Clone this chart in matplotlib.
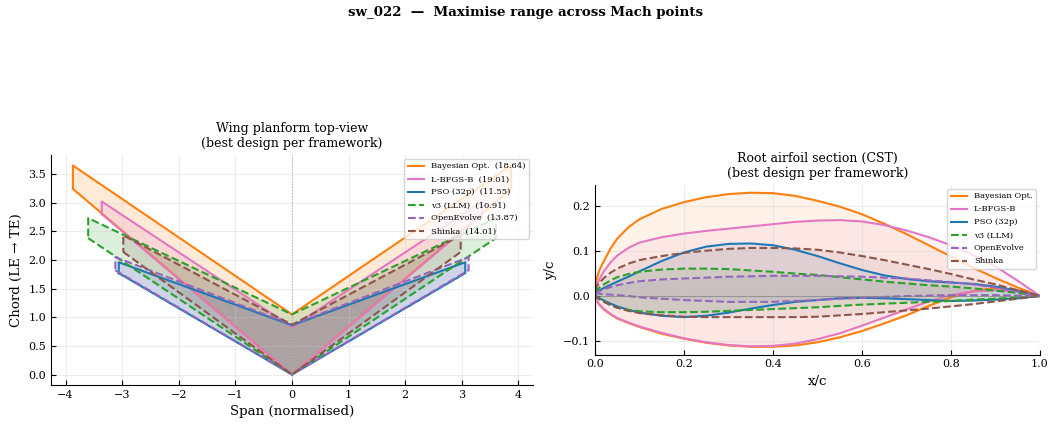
import matplotlib
matplotlib.use("Agg")
import matplotlib.pyplot as plt
import numpy as np

plt.rcParams.update({"font.family": "DejaVu Serif", "font.size": 8,
                     "axes.grid": True, "grid.alpha": 0.35, "grid.color": "#cccccc",
                     "xtick.direction": "in", "ytick.direction": "in",
                     "xtick.major.size": 3.5, "ytick.major.size": 3.5,
                     "axes.spines.top": False, "axes.spines.right": False})

# frameworks
NAMES = ["Bayesian Opt.", "L-BFGS-B", "PSO (32p)", "v3 (LLM)", "OpenEvolve", "Shinka"]
SCORES = [18.64, 19.01, 11.55, 10.91, 13.87, 14.01]
COLORS = ["#ff7f0e", "#e377c2", "#1f77b4", "#2ca02c", "#9467bd", "#8c564b"]
STYLES = ["-", "-", "-", "--", "--", "--"]

# planform: semi-span, root chord, LE offset at tip, TE position at tip
SEMI_SPAN = [3.87, 3.36, 3.06, 3.60, 3.12, 2.98]
ROOT_CHORD = [1.05, 0.83, 0.86, 1.05, 0.87, 0.87]
LE_TIP = [3.24, 2.80, 1.77, 2.38, 1.82, 2.14]
TE_TIP = [3.65, 3.02, 1.96, 2.73, 2.05, 2.43]

# root airfoil (CST) sampled stations
X_C = [0, 0.003, 0.01, 0.02, 0.035, 0.05, 0.075, 0.1, 0.15, 0.2, 0.25, 0.3, 0.35,
       0.4, 0.45, 0.5, 0.55, 0.6, 0.65, 0.7, 0.75, 0.8, 0.85, 0.9, 0.95, 1.0]
UPPER = [
    [0.008, 0.035, 0.058, 0.078, 0.106, 0.128, 0.153, 0.171, 0.194, 0.209, 0.220, 0.227, 0.230,
     0.229, 0.223, 0.212, 0.199, 0.182, 0.161, 0.138, 0.113, 0.088, 0.063, 0.040, 0.019, 0.0],
    [0.006, 0.022, 0.038, 0.055, 0.075, 0.090, 0.107, 0.119, 0.131, 0.139, 0.145, 0.150, 0.155,
     0.160, 0.165, 0.168, 0.169, 0.166, 0.158, 0.146, 0.131, 0.113, 0.091, 0.066, 0.034, 0.0],
    [0.006, 0.009, 0.013, 0.018, 0.025, 0.032, 0.043, 0.055, 0.078, 0.097, 0.110, 0.116, 0.117,
     0.113, 0.103, 0.089, 0.073, 0.058, 0.046, 0.038, 0.033, 0.030, 0.027, 0.021, 0.012, 0.0],
    [0.008, 0.013, 0.019, 0.026, 0.035, 0.042, 0.049, 0.054, 0.059, 0.061, 0.061, 0.060, 0.057,
     0.054, 0.050, 0.047, 0.042, 0.037, 0.032, 0.028, 0.024, 0.021, 0.017, 0.012, 0.007, 0.0],
    [0.006, 0.008, 0.011, 0.015, 0.020, 0.024, 0.029, 0.033, 0.037, 0.039, 0.041, 0.043, 0.044,
     0.045, 0.045, 0.045, 0.044, 0.043, 0.041, 0.039, 0.035, 0.031, 0.026, 0.019, 0.010, 0.0],
    [0.012, 0.020, 0.030, 0.040, 0.052, 0.061, 0.072, 0.080, 0.089, 0.096, 0.101, 0.105, 0.107,
     0.107, 0.106, 0.103, 0.097, 0.089, 0.080, 0.070, 0.060, 0.049, 0.037, 0.026, 0.013, 0.0],
]
LOWER = [
    [0.003, -0.010, -0.020, -0.030, -0.041, -0.050, -0.060, -0.069, -0.084, -0.095, -0.104, -0.110, -0.113,
     -0.113, -0.110, -0.103, -0.092, -0.078, -0.061, -0.043, -0.022, -0.003, 0.011, 0.018, 0.013, 0.0],
    [0.003, -0.009, -0.019, -0.029, -0.040, -0.049, -0.059, -0.068, -0.082, -0.094, -0.103, -0.109, -0.112,
     -0.111, -0.106, -0.096, -0.083, -0.066, -0.048, -0.030, -0.012, 0.002, 0.010, 0.013, 0.010, 0.0],
    [0.003, -0.001, -0.005, -0.010, -0.017, -0.023, -0.031, -0.037, -0.044, -0.047, -0.044, -0.037, -0.028,
     -0.020, -0.013, -0.009, -0.005, -0.004, -0.005, -0.007, -0.009, -0.011, -0.010, -0.008, -0.005, 0.0],
    [0.003, -0.002, -0.007, -0.013, -0.020, -0.026, -0.031, -0.034, -0.036, -0.036, -0.035, -0.033, -0.031,
     -0.029, -0.027, -0.025, -0.022, -0.019, -0.017, -0.015, -0.013, -0.011, -0.008, -0.006, -0.003, 0.0],
    [0.006, 0.006, 0.005, 0.004, 0.003, 0.002, 0.000, -0.003, -0.006, -0.009, -0.011, -0.013, -0.013,
     -0.013, -0.011, -0.009, -0.006, -0.004, -0.002, 0.000, 0.001, 0.002, 0.002, 0.002, 0.001, 0.0],
    [0.003, -0.002, -0.007, -0.013, -0.020, -0.026, -0.033, -0.038, -0.043, -0.046, -0.047, -0.047, -0.047,
     -0.047, -0.047, -0.046, -0.043, -0.040, -0.036, -0.032, -0.028, -0.023, -0.018, -0.012, -0.006, 0.0],
]

fig = plt.figure(figsize=(10.51, 4.26), dpi=100)
ax1 = fig.add_axes([51 / 1051, 1 - 385 / 426, 482 / 1051, 230 / 426])
ax2 = fig.add_axes([595 / 1051, 1 - 354.5 / 426, 445 / 1051, 169.5 / 426])

fig.suptitle("sw_022  —  Maximise range across Mach points", fontweight="bold",
             fontsize=9.6, y=0.985)

# planform top-view
for i, name in enumerate(NAMES):
    s = SEMI_SPAN[i]
    px = [-s, 0, s, s, 0, -s, -s]
    py = [LE_TIP[i], 0, LE_TIP[i], TE_TIP[i], ROOT_CHORD[i], TE_TIP[i], LE_TIP[i]]
    ax1.fill(px, py, color=COLORS[i], alpha=0.16, lw=0)
    ax1.plot(px, py, color=COLORS[i], ls=STYLES[i], lw=1.5,
             label=f"{name}  ({SCORES[i]:.2f})")
ax1.axvline(0, color="gray", ls=":", lw=0.8, alpha=0.6)
ax1.set_xticks(np.arange(-4, 5, 1))
ax1.set_yticks(np.arange(0, 3.6, 0.5))
ax1.set_xlabel("Span (normalised)", fontsize=9.6)
ax1.set_ylabel("Chord (LE → TE)", fontsize=9.6)
ax1.set_title("Wing planform top-view\n(best design per framework)", fontsize=9)
ax1.legend(loc="upper right", fontsize=6, labelspacing=0.6)

# root airfoil section
for i, name in enumerate(NAMES):
    ax2.fill_between(X_C, LOWER[i], UPPER[i], color=COLORS[i], alpha=0.09, lw=0)
    ax2.plot(X_C, UPPER[i], color=COLORS[i], ls=STYLES[i], lw=1.5, label=name)
    ax2.plot(X_C, LOWER[i], color=COLORS[i], ls=STYLES[i], lw=1.5)
ax2.axhline(0, color="gray", lw=0.8, alpha=0.7)
ax2.set_xlim(0, 1)
ax2.set_xlabel("x/c", fontsize=9.6)
ax2.set_ylabel("y/c", fontsize=9.6)
ax2.set_title("Root airfoil section (CST)\n(best design per framework)", fontsize=9)
ax2.legend(loc="upper right", fontsize=6, labelspacing=0.6)

fig.savefig("out.png", dpi=100)
